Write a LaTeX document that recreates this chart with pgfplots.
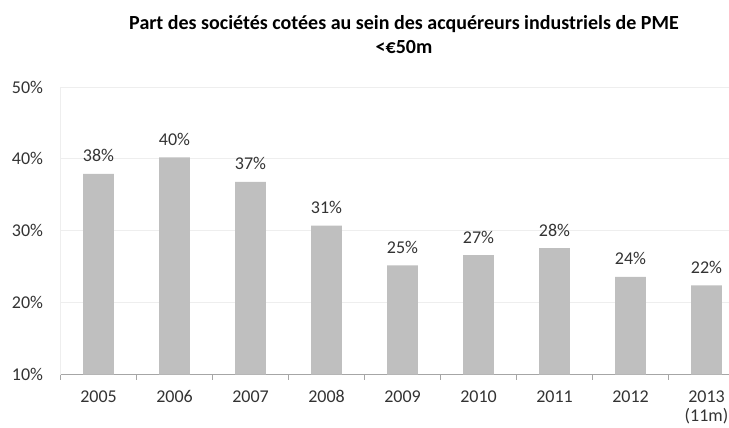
\documentclass[border=0pt]{standalone}
\usepackage{pgfplots}
\pgfplotsset{compat=1.18}
\usepackage{fontspec}
\setmainfont{Carlito}
\definecolor{barc}{HTML}{BFBFBF}
\definecolor{gridc}{HTML}{EEEEEE}
\definecolor{axisc}{HTML}{A6A6A6}
\definecolor{txt}{HTML}{333333}
\begin{document}
\begin{tikzpicture}
\useasboundingbox (0,0) rectangle (729bp,428bp);
\node[anchor=base, inner sep=0pt, font=\fontsize{20bp}{24bp}\selectfont\bfseries, text=black] at (404bp,398.7bp)
  {Part des sociétés cotées au sein des acquéreurs industriels de PME};
\node[anchor=base, inner sep=0pt, font=\fontsize{20bp}{24bp}\selectfont\bfseries, text=black] at (404bp,374.7bp)
  {<€50m};
\begin{axis}[
  at={(60.5bp,53.5bp)}, anchor=south west,
  scale only axis, width=668.5bp, height=287.5bp,
  xmin=-0.5, xmax=8.296, ymin=10, ymax=50,
  axis x line*=bottom, axis y line*=left,
  x axis line style={draw=axisc, -},
  y axis line style={draw=gridc, -},
  ymajorgrids, grid style={draw=gridc, line width=0.8pt},
  ytick={10,20,30,40,50},
  yticklabel={\pgfmathprintnumber{\tick}\%},
  xtick={0,...,8},
  xticklabels={2005,2006,2007,2008,2009,2010,2011,2012,{\begin{tabular}[t]{@{}c@{}}2013\\(11m)\end{tabular}}},
  minor xtick={-0.5,0.5,...,7.5},
  tick align=outside,
  major tick length=0pt, minor tick length=5bp,
  minor tick style={draw=axisc, line width=0.6pt},
  /pgf/number format/assume math mode=true,
  tick label style={font=\fontsize{18bp}{19.5bp}\selectfont, text=txt, inner sep=0pt},
  yticklabel style={anchor=east, xshift=-17.2bp},
  xticklabel style={anchor=base, yshift=-27.8bp},
  ybar, bar width=30.7bp,
  nodes near coords={\pgfmathprintnumber[fixed,precision=0]{\pgfplotspointmeta}\%},
  every node near coord/.append style={anchor=base, inner sep=0pt, yshift=12bp, font=\fontsize{18bp}{20bp}\selectfont, text=txt},
  clip=false,
]
\addplot[fill=barc, draw=none] coordinates {
(0,37.9) (1,40.2) (2,36.8) (3,30.7) (4,25.2) (5,26.6) (6,27.6) (7,23.6) (8,22.4)
};
\end{axis}
\end{tikzpicture}
\end{document}
